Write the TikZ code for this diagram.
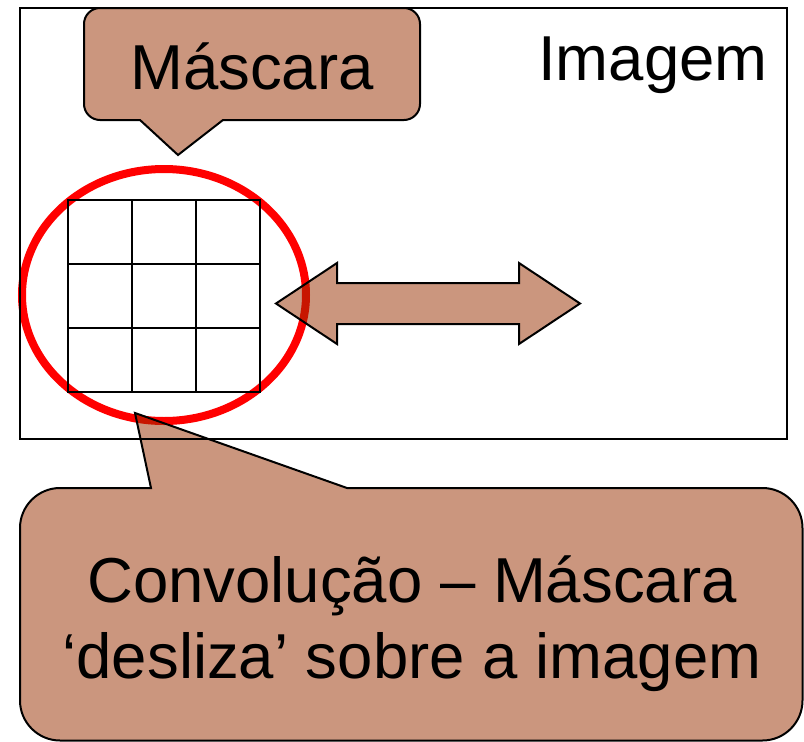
\documentclass[tikz,border=0pt]{standalone}
\usepackage{fontspec}
\setmainfont{Liberation Sans}
\definecolor{calloutbrown}{RGB}{203,150,126}
\definecolor{maskred}{RGB}{255,0,0}
\definecolor{overlapred}{RGB}{200,22,0}
\begin{document}
\begin{tikzpicture}[x=1pt,y=-1pt,
  frame/.style={draw=black,line width=2pt},
  gridline/.style={draw=black,line width=2pt,line cap=rect},
  calloutfill/.style={fill=calloutbrown},
  calloutline/.style={draw=black,line width=2pt,line join=miter},
  bigtext/.style={font=\fontsize{63.5}{76}\selectfont,inner sep=0pt,anchor=base},
  ring/.style={draw=maskred,line width=8pt},
  ringshadow/.style={draw=overlapred,line width=8pt}]
\useasboundingbox (0,0) rectangle (804,742);
\def\ringpath{(164,295) ellipse [x radius=142,y radius=126]}
\def\arrowpath{(276,303.5) -- (337,263) -- (337,283) -- (519,283) -- (519,263)
  -- (580,303.5) -- (519,344) -- (519,324) -- (337,324) -- (337,344) -- cycle}
\def\bottompath{(60,488) -- (151,488) -- (135,413) -- (347,488)
  -- (762.5,488) .. controls (784.5,488) and (802.5,506) .. (802.5,528)
  -- (802.5,700.5) .. controls (802.5,722.5) and (784.5,740.5) .. (762.5,740.5)
  -- (60,740.5) .. controls (38,740.5) and (20,722.5) .. (20,700.5)
  -- (20,528) .. controls (20,506) and (38,488) .. (60,488) -- cycle}
% red ring around the mask
\draw[ring] \ringpath;
% image frame
\draw[frame] (20,8) rectangle (787,439);
% 3x3 mask grid
\foreach \k in {0,1,2,3} {
  \draw[gridline] ({68+64*\k},200) -- ({68+64*\k},392);
  \draw[gridline] (68,{200+64*\k}) -- (260,{200+64*\k});
}
% callout "Mascara"
\path[calloutfill,calloutline] (100,8) -- (404,8) .. controls (412.8,8) and (420,15.2) .. (420,24)
  -- (420,104) .. controls (420,112.8) and (412.8,120) .. (404,120)
  -- (223,120) -- (178,155) -- (140,120)
  -- (100,120) .. controls (91.2,120) and (84,112.8) .. (84,104)
  -- (84,24) .. controls (84,15.2) and (91.2,8) .. (100,8) -- cycle;
\node[bigtext] (mascara) at (252,89) {Máscara};
\node[bigtext] (imagem) at (653,80) {Imagem};
% double arrow
\path[calloutfill] \arrowpath;
\begin{scope}
  \clip \arrowpath;
  \draw[ringshadow] \ringpath;
\end{scope}
\path[calloutline] \arrowpath;
% bottom callout
\path[calloutfill] \bottompath;
\begin{scope}
  \clip \bottompath;
  \draw[ringshadow] \ringpath;
  \draw[frame] (20,8) rectangle (787,439);
\end{scope}
\path[calloutline] \bottompath;
\node[bigtext] (conv1) at (412,602) {Convolução – Máscara};
\node[bigtext] (conv2) at (412,678) {‘desliza’ sobre a imagem};
\end{tikzpicture}
\end{document}
